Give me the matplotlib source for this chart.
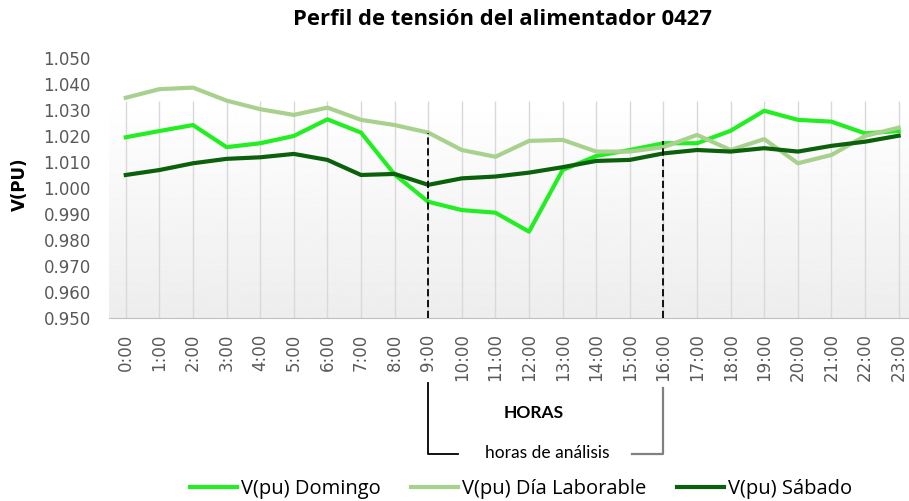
import numpy as np
import matplotlib.pyplot as plt
from matplotlib.lines import Line2D
from matplotlib.transforms import blended_transform_factory

hours = [f'{h}:00' for h in range(24)]

domingo = [1.0195, 1.0219, 1.0242, 1.0157, 1.0172, 1.0200, 1.0264, 1.0213,
           1.0052, 0.9947, 0.9915, 0.9905, 0.9832, 1.0069, 1.0123, 1.0146,
           1.0172, 1.0172, 1.0220, 1.0297, 1.0262, 1.0255, 1.0210, 1.0219]
laborable = [1.0347, 1.0380, 1.0386, 1.0336, 1.0303, 1.0281, 1.0309, 1.0262,
             1.0242, 1.0213, 1.0146, 1.0120, 1.0181, 1.0185, 1.0140, 1.0140,
             1.0157, 1.0204, 1.0146, 1.0188, 1.0095, 1.0127, 1.0200, 1.0232]
sabado = [1.0050, 1.0069, 1.0095, 1.0112, 1.0118, 1.0131, 1.0108, 1.0050,
          1.0054, 1.0012, 1.0037, 1.0044, 1.0059, 1.0080, 1.0104, 1.0108,
          1.0133, 1.0146, 1.0140, 1.0153, 1.0140, 1.0162, 1.0178, 1.0201]

analysis_hours = [9, 16]
dash_tops = [1.0210, 1.0182]
area_top = 1.0335

c_dom = '#22EE22'
c_lab = '#A9D18E'
c_sab = '#0B610B'
grey = '#595959'

fig = plt.figure(figsize=(9.09, 5.01), dpi=100)
ax = fig.add_axes([0.1199, 0.3653, 0.8872, 0.519])

x = np.arange(len(hours))

# fondo degradado del area de trazado
grad = np.linspace(0.93, 1.0, 256).reshape(-1, 1)
ax.imshow(grad, cmap='gray', vmin=0, vmax=1, aspect='auto', origin='lower',
          extent=[-0.5, len(hours) - 0.5, 0.95, area_top], zorder=0)
ax.vlines(x, 0.95, area_top, color='#D9D9D9', lw=1, zorder=1)

ax.plot(x, domingo, color=c_dom, lw=3, label='V(pu) Domingo', zorder=3)
ax.plot(x, laborable, color=c_lab, lw=3, label='V(pu) Día Laborable', zorder=3)
ax.plot(x, sabado, color=c_sab, lw=3, label='V(pu) Sábado', zorder=3)

ax.vlines(analysis_hours, 0.95, dash_tops, color='black', lw=1.3,
          linestyles=(0, (4, 2)), zorder=4)

ax.set_xlim(-0.5, len(hours) - 0.5)
ax.set_ylim(0.95, 1.05)
ax.set_xticks(x)
ax.set_xticklabels(hours, rotation=90)
ax.set_yticks(np.arange(0.95, 1.0501, 0.01))
ax.yaxis.set_major_formatter(plt.FormatStrFormatter('%.3f'))
ax.tick_params(axis='both', length=0, labelcolor=grey, labelsize=12)
ax.tick_params(axis='y', pad=13)
ax.tick_params(axis='x', pad=11)
for s in ['top', 'right', 'left']:
    ax.spines[s].set_visible(False)
ax.spines['bottom'].set_color('#BFBFBF')

fig.text(0.553, 0.962, 'Perfil de tensión del alimentador 0427',
         ha='center', va='center', fontsize=15.8, fontweight='bold',
         family='Open Sans')
fig.text(0.022, 0.633, 'V(PU)', rotation=90, ha='center', va='center',
         fontsize=12, fontweight='bold')

tr = blended_transform_factory(ax.transData, fig.transFigure)
fig.text(12.15, 1 - 413 / 501, 'HORAS', transform=tr, ha='center', va='center',
         fontsize=12.5, fontweight='bold', family='Lato')
fig.text(12.55, 1 - 453 / 501, 'horas de análisis', transform=tr,
         ha='center', va='center', fontsize=12.5, family='Lato')
y_low = 1 - 454 / 501
fig.add_artist(Line2D([analysis_hours[0], analysis_hours[0], analysis_hours[0] + 0.9],
                      [1 - 383 / 501, y_low, y_low], transform=tr,
                      color='black', lw=1.3))
fig.add_artist(Line2D([analysis_hours[1] - 0.95, analysis_hours[1], analysis_hours[1]],
                      [y_low, y_low, 1 - 388 / 501], transform=tr,
                      color='#808080', lw=1.6))

fig.legend(loc='center', bbox_to_anchor=(0.573, 1 - 489 / 501), ncol=3,
           frameon=False, prop={'family': 'Open Sans', 'size': 14.5},
           handlelength=2.35, handletextpad=0.2, columnspacing=1.5)

fig.savefig('out.png', dpi=100)
